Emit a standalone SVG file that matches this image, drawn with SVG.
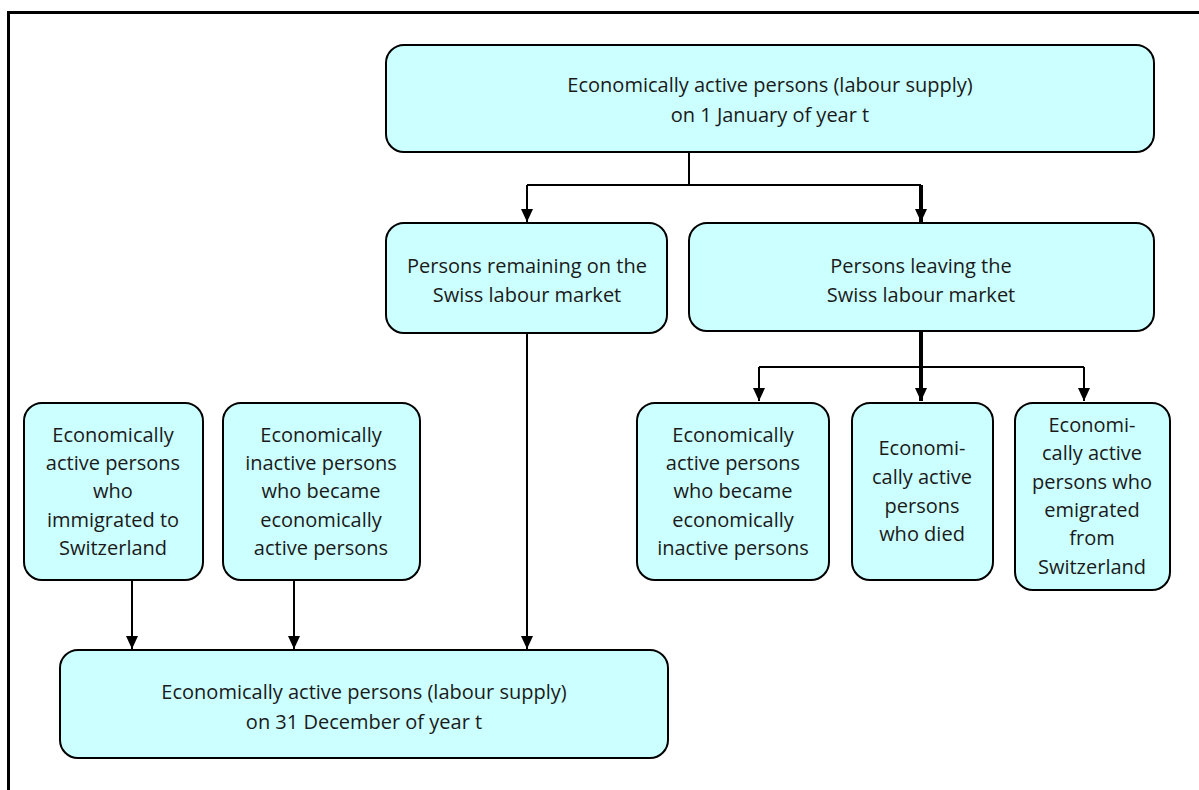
<svg xmlns="http://www.w3.org/2000/svg" width="1199" height="790" viewBox="0 0 1199 790">
<defs>
<style>
.box{fill:#ccffff;stroke:#000;stroke-width:2}
.t{font-family:"Open Sans","Liberation Sans",sans-serif;font-size:20px;fill:#1a1a1a;text-anchor:middle}
.ln{fill:none;stroke:#000;stroke-width:2}
.thk{fill:none;stroke:#000;stroke-width:4}
</style>
<marker id="ah" markerUnits="userSpaceOnUse" markerWidth="12" markerHeight="13" viewBox="0 0 12 13" refX="6" refY="13" orient="0">
<path d="M0,0 L12,0 L6,13 z" fill="#000"/>
</marker>
</defs>
<rect width="1199" height="790" fill="#fff"/>
<path d="M8.5,790 V12.5 H1199" fill="none" stroke="#000" stroke-width="3"/>

<g id="connectors">
<path class="ln" d="M689,152 V185"/>
<path class="ln" d="M527,185 H921"/>
<path class="ln" d="M527,185 V222" marker-end="url(#ah)"/>
<path class="thk" d="M921,185 V222" marker-end="url(#ah)"/>
<path class="thk" d="M921,332 V401" marker-end="url(#ah)"/>
<path class="ln" d="M759,367 H1084"/>
<path class="ln" d="M759,367 V401" marker-end="url(#ah)"/>
<path class="ln" d="M1084,367 V401" marker-end="url(#ah)"/>
<path class="ln" d="M527,333 V649" marker-end="url(#ah)"/>
<path class="ln" d="M132,580 V649" marker-end="url(#ah)"/>
<path class="ln" d="M294,580 V649" marker-end="url(#ah)"/>
</g>

<g id="top">
<rect class="box" x="386" y="45" width="768" height="107" rx="18"/>
<text class="t" x="770" y="92">Economically active persons (labour supply)</text>
<text class="t" x="770" y="122">on 1 January of year t</text>
</g>

<g id="remaining">
<rect class="box" x="386" y="223" width="281" height="110" rx="18"/>
<text class="t" x="527" y="273">Persons remaining on the</text>
<text class="t" x="527" y="302">Swiss labour market</text>
</g>

<g id="leaving">
<rect class="box" x="689" y="223" width="465" height="108" rx="18"/>
<text class="t" x="921" y="273">Persons leaving the</text>
<text class="t" x="921" y="302">Swiss labour market</text>
</g>

<g id="immigrated">
<rect class="box" x="24" y="403" width="179" height="177" rx="18"/>
<text class="t" x="113" y="442">Economically</text>
<text class="t" x="113" y="470">active persons</text>
<text class="t" x="113" y="498">who</text>
<text class="t" x="113" y="527">immigrated to</text>
<text class="t" x="113" y="555">Switzerland</text>
</g>

<g id="became-active">
<rect class="box" x="223" y="403" width="197" height="177" rx="18"/>
<text class="t" x="321" y="442">Economically</text>
<text class="t" x="321" y="470">inactive persons</text>
<text class="t" x="321" y="498">who became</text>
<text class="t" x="321" y="527">economically</text>
<text class="t" x="321" y="555">active persons</text>
</g>

<g id="became-inactive">
<rect class="box" x="637" y="403" width="192" height="177" rx="18"/>
<text class="t" x="733" y="442">Economically</text>
<text class="t" x="733" y="470">active persons</text>
<text class="t" x="733" y="498">who became</text>
<text class="t" x="733" y="527">economically</text>
<text class="t" x="733" y="555">inactive persons</text>
</g>

<g id="died">
<rect class="box" x="852" y="403" width="141" height="177" rx="18"/>
<text class="t" x="922" y="455">Economi-</text>
<text class="t" x="922" y="484">cally active</text>
<text class="t" x="922" y="513">persons</text>
<text class="t" x="922" y="541">who died</text>
</g>

<g id="emigrated">
<rect class="box" x="1015" y="403" width="155" height="187" rx="18"/>
<text class="t" x="1092" y="432">Economi-</text>
<text class="t" x="1092" y="460">cally active</text>
<text class="t" x="1092" y="489">persons who</text>
<text class="t" x="1092" y="517">emigrated</text>
<text class="t" x="1092" y="545">from</text>
<text class="t" x="1092" y="574">Switzerland</text>
</g>

<g id="bottom">
<rect class="box" x="60" y="650" width="608" height="108" rx="18"/>
<text class="t" x="364" y="699">Economically active persons (labour supply)</text>
<text class="t" x="364" y="729">on 31 December of year t</text>
</g>
</svg>
